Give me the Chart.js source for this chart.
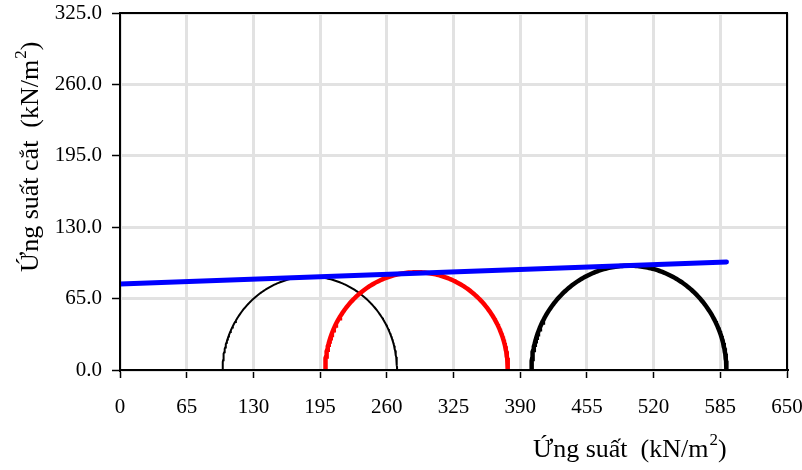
<!DOCTYPE html>
<html>
<head>
<meta charset="utf-8">
<script src="https://cdn.jsdelivr.net/npm/chart.js@4.4.0/dist/chart.umd.min.js"></script>
<style>
  html, body { margin: 0; padding: 0; background: #fff; }
  #wrap { width: 802px; height: 470px; }
</style>
</head>
<body>
<div id="wrap"><canvas id="mohrChart" width="802" height="470"></canvas></div>
<script>
// Mohr circles: minor / major principal stresses (kN/m2)
const sigma3 = [100, 200, 401];
const sigma1 = [270, 378, 591];
const circleColors = ['#000000', '#ff0000', '#000000'];
const circleWidths = [2, 4.5, 4.5];

// failure envelope
const envelopeX = [0, 591];
const envelopeY = [78.4, 98.4];

const xTickValues = [0, 65, 130, 195, 260, 325, 390, 455, 520, 585, 650];
const yTickValues = [0, 65, 130, 195, 260, 325];

const xTitle = 'Ứng suất';
const yTitle = 'Ứng suất cắt';
const unitText = ['(kN/m', '2', ')'];

const FONT = '"Liberation Serif", "Times New Roman", serif';

function semicircle(s3, s1) {
  const c = (s1 + s3) / 2, r = (s1 - s3) / 2;
  const pts = [];
  for (let i = 0; i <= 180; i++) {
    const a = Math.PI * (180 - i) / 180;
    pts.push({ x: c + r * Math.cos(a), y: r * Math.sin(a) });
  }
  return pts;
}

const datasets = [{
  label: 'envelope',
  data: envelopeX.map((x, i) => ({ x, y: envelopeY[i] })),
  borderColor: '#0000ff',
  borderWidth: 5,
  borderCapStyle: 'round',
  showLine: true,
  pointRadius: 0,
  order: 0
}];
sigma3.forEach((s3, i) => {
  datasets.push({
    label: 'circle ' + (i + 1),
    data: semicircle(s3, sigma1[i]),
    borderColor: circleColors[i],
    borderWidth: circleWidths[i],
    showLine: true,
    pointRadius: 0,
    order: i === 1 ? 1 : 2
  });
});

// draw text with a raised small "2"
function drawUnitTitle(ctx, label, x, y) {
  ctx.font = '26px ' + FONT;
  ctx.textBaseline = 'alphabetic';
  ctx.textAlign = 'left';
  ctx.fillStyle = '#000';
  let cx = x;
  ctx.fillText(label + '  ' + unitText[0], cx, y);
  cx += ctx.measureText(label + '  ' + unitText[0]).width;
  ctx.font = '17px ' + FONT;
  ctx.fillText(unitText[1], cx + 1, y - 12);
  cx += ctx.measureText(unitText[1]).width + 1;
  ctx.font = '26px ' + FONT;
  ctx.fillText(unitText[2], cx, y);
}

const framePlugin = {
  id: 'frame',
  afterDraw(chart) {
    const { ctx, chartArea: a } = chart;
    ctx.save();
    ctx.strokeStyle = '#000';
    ctx.lineWidth = 2;
    ctx.strokeRect(a.left, a.top, a.right - a.left, a.bottom - a.top);
    // axis titles
    drawUnitTitle(ctx, xTitle, 533, 457);
    ctx.translate(38, 272);
    ctx.rotate(-Math.PI / 2);
    drawUnitTitle(ctx, yTitle, 0, 0);
    ctx.restore();
  }
};

new Chart(document.getElementById('mohrChart'), {
  type: 'scatter',
  data: { datasets },
  options: {
    responsive: false,
    animation: false,
    layout: { padding: { top: 13, right: 15, left: 0, bottom: 0 } },
    plugins: { legend: { display: false }, tooltip: { enabled: false } },
    scales: {
      x: {
        type: 'linear',
        min: 0, max: 650,
        afterBuildTicks: s => { s.ticks = xTickValues.map(v => ({ value: v })); },
        afterFit: s => { s.height = 100; s.paddingLeft = 0; s.paddingRight = 0; },
        ticks: {
          color: '#000', padding: 17,
          font: { family: FONT, size: 21 },
          maxRotation: 0, autoSkip: false
        },
        grid: { color: '#e2e2e2', lineWidth: 3, tickLength: 8, tickColor: '#000', tickWidth: 1.5 },
        border: { color: '#000', width: 2 }
      },
      y: {
        type: 'linear',
        min: 0, max: 325,
        afterBuildTicks: s => { s.ticks = yTickValues.map(v => ({ value: v })); },
        afterFit: s => { s.width = 120; s.paddingTop = 0; s.paddingBottom = 0; },
        ticks: {
          color: '#000', padding: 10,
          font: { family: FONT, size: 21 },
          callback: v => Number(v).toFixed(1),
          autoSkip: false
        },
        grid: { color: '#e2e2e2', lineWidth: 3, tickLength: 8, tickColor: '#000', tickWidth: 1.5 },
        border: { color: '#000', width: 2 }
      }
    }
  },
  plugins: [framePlugin]
});
</script>
</body>
</html>
